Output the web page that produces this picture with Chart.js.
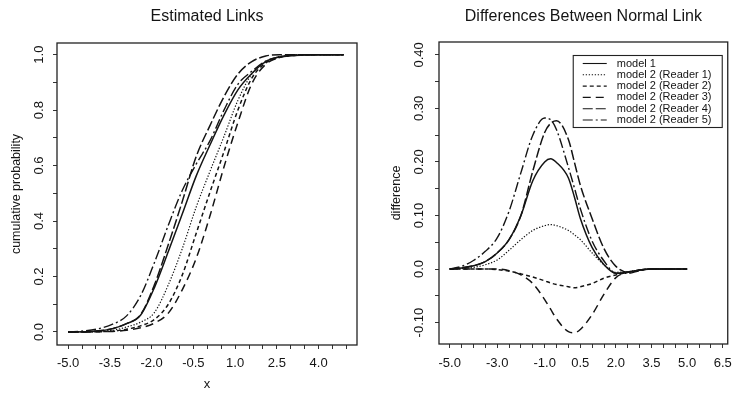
<!DOCTYPE html>
<html>
<head>
<meta charset="utf-8">
<script src="https://cdn.jsdelivr.net/npm/chart.js@4.4.0/dist/chart.umd.min.js"></script>
<style>
  html, body { margin: 0; padding: 0; background: #fff; overflow: hidden; }
  #wrap { position: relative; width: 740px; height: 397px; }
  canvas { position: absolute; top: 0; }
  #links { left: 0; }
  #diffs { left: 370px; }
</style>
</head>
<body>
<div id="wrap">
  <canvas id="links" width="370" height="397"></canvas>
  <canvas id="diffs" width="370" height="397"></canvas>
</div>
<script>
// ---- data ----
var seriesNames = ['model 1', 'model 2 (Reader 1)', 'model 2 (Reader 2)',
                   'model 2 (Reader 3)', 'model 2 (Reader 4)', 'model 2 (Reader 5)'];

// left panel: estimated links (cumulative probability)
var linkX = [-5, -4.4, -3.9, -3.4, -2.9, -2.4, -1.9, -1.4, -0.9, -0.4, 0.1, 0.6, 1.1, 1.6, 2.1, 2.6, 3.1, 4.1, 4.9];
var linkM1 = [0, 0.001, 0.004, 0.012, 0.03, 0.06, 0.16, 0.29, 0.425, 0.562, 0.675, 0.782, 0.873, 0.932, 0.975, 0.992, 0.997, 1, 1];
var linkR1 = [0, 0, 0.002, 0.006, 0.018, 0.035, 0.07, 0.17, 0.30, 0.45, 0.58, 0.705, 0.835, 0.93, 0.975, 0.993, 0.998, 1, 1];
var linkR2 = [0, 0, 0.001, 0.003, 0.01, 0.022, 0.045, 0.10, 0.205, 0.355, 0.505, 0.65, 0.80, 0.915, 0.97, 0.99, 0.997, 1, 1];
var linkR3 = [0, 0, 0.001, 0.002, 0.006, 0.015, 0.032, 0.068, 0.152, 0.265, 0.42, 0.595, 0.755, 0.895, 0.965, 0.99, 0.997, 1, 1];
var linkR4 = [0, 0.001, 0.004, 0.012, 0.03, 0.062, 0.17, 0.315, 0.47, 0.632, 0.745, 0.848, 0.93, 0.975, 0.995, 1, 1, 1, 1];
var linkR5 = [0, 0.004, 0.012, 0.028, 0.058, 0.13, 0.25, 0.385, 0.51, 0.605, 0.69, 0.80, 0.893, 0.94, 0.977, 0.992, 0.998, 1, 1];

// right panel: differences from the normal link
var diffX = [-5, -4.5, -4, -3.5, -3, -2.5, -2, -1.5, -1, -0.75, -0.5, 0, 0.25, 0.5, 1, 1.5, 2, 2.5, 3, 3.5, 4, 5];
var diffM1 = [0, 0.002, 0.006, 0.014, 0.03, 0.055, 0.10, 0.165, 0.200, 0.206, 0.199, 0.17, 0.135, 0.095, 0.04, 0.008, -0.008, -0.006, -0.002, 0, 0, 0];
var diffR1 = [0, 0.001, 0.003, 0.008, 0.017, 0.035, 0.055, 0.072, 0.081, 0.083, 0.081, 0.072, 0.064, 0.055, 0.03, 0.008, -0.006, -0.005, -0.002, 0, 0, 0];
var diffR2 = [0, 0, 0, 0, -0.001, -0.004, -0.009, -0.015, -0.022, -0.026, -0.029, -0.033, -0.035, -0.033, -0.027, -0.017, -0.011, -0.006, -0.002, 0, 0, 0];
var diffR3 = [0, 0, 0, 0, 0, -0.003, -0.011, -0.027, -0.057, -0.075, -0.093, -0.117, -0.119, -0.113, -0.085, -0.047, -0.016, -0.006, -0.002, 0, 0, 0];
var diffR4 = [0, 0.002, 0.006, 0.014, 0.03, 0.055, 0.10, 0.183, 0.255, 0.272, 0.277, 0.242, 0.2, 0.157, 0.094, 0.038, 0.005, -0.006, -0.002, 0, 0, 0];
var diffR5 = [0, 0.005, 0.016, 0.033, 0.058, 0.108, 0.18, 0.25, 0.282, 0.279, 0.26, 0.19, 0.152, 0.113, 0.052, 0.015, -0.008, -0.008, -0.003, 0, 0, 0];

// ticks and labels
var linkXTicks = [-5, -4.5, -4, -3.5, -3, -2.5, -2, -1.5, -1, -0.5, 0, 0.5, 1, 1.5, 2, 2.5, 3, 3.5, 4, 4.5, 5];
var linkXLabels = [-5, -3.5, -2, -0.5, 1, 2.5, 4];
var linkYTicks = [0, 0.1, 0.2, 0.3, 0.4, 0.5, 0.6, 0.7, 0.8, 0.9, 1];
var linkYLabels = [0, 0.2, 0.4, 0.6, 0.8, 1];
var diffXTicks = [-5, -4.5, -4, -3.5, -3, -2.5, -2, -1.5, -1, -0.5, 0, 0.5, 1, 1.5, 2, 2.5, 3, 3.5, 4, 4.5, 5, 5.5, 6, 6.5];
var diffXLabels = [-5, -3, -1, 0.5, 2, 3.5, 5, 6.5];
var diffYTicks = [-0.1, -0.05, 0, 0.05, 0.1, 0.15, 0.2, 0.25, 0.3, 0.35, 0.4];
var diffYLabels = [-0.1, 0, 0.1, 0.2, 0.3, 0.4];

// line styles, one per series
var dashes = [[], [1.3, 1.7], [4, 3], [8, 5], [10, 3], [10, 3, 2, 3]];
var widths = [1.5, 1.2, 1.5, 1.5, 1.5, 1.4];

var INK = '#141414';
var FONT = 'Liberation Sans, Arial, Helvetica, sans-serif';

function points(xs, ys) {
    return xs.map(function (x, i) { return {x: x, y: ys[i]}; });
}

function makeSets(xs, list) {
    return list.map(function (ys, i) {
        return {
            label: seriesNames[i],
            data: points(xs, ys),
            borderColor: INK,
            borderWidth: widths[i],
            borderDash: dashes[i],
            pointRadius: 0,
            fill: false,
            cubicInterpolationMode: 'monotone'
        };
    });
}

// box around the plot region
var framePlugin = {
    id: 'frame',
    afterDraw: function (chart) {
        var a = chart.chartArea, ctx = chart.ctx;
        ctx.save();
        ctx.strokeStyle = '#222';
        ctx.lineWidth = 1.3;
        ctx.strokeRect(a.left, a.top, a.right - a.left, a.bottom - a.top);
        ctx.restore();
    }
};

// boxed legend in the top right of the difference panel
var boxLegend = {
    id: 'boxLegend',
    afterDraw: function (chart) {
        var a = chart.chartArea, ctx = chart.ctx;
        var w = 149, h = 72;
        var x0 = a.right - 6 - w, y0 = a.top + 13;
        ctx.save();
        ctx.strokeStyle = '#222';
        ctx.lineWidth = 1.1;
        ctx.strokeRect(x0 + 0.5, y0 + 0.5, w, h);
        ctx.font = '11px ' + FONT;
        ctx.fillStyle = INK;
        ctx.textBaseline = 'middle';
        chart.data.datasets.forEach(function (ds, i) {
            var y = y0 + 8.5 + i * 11.3;
            ctx.beginPath();
            ctx.setLineDash(ds.borderDash);
            ctx.lineWidth = 1.1;
            ctx.strokeStyle = INK;
            ctx.moveTo(x0 + 10, y);
            ctx.lineTo(x0 + 34, y);
            ctx.stroke();
            ctx.fillText(ds.label, x0 + 44, y);
        });
        ctx.restore();
    }
};

function makeOptions(cfg) {
    return {
        responsive: false,
        animation: false,
        devicePixelRatio: 1,
        layout: {padding: {left: 0, right: cfg.padRight, top: 0, bottom: 0}},
        plugins: {
            legend: {display: false},
            tooltip: {enabled: false},
            title: {
                display: true,
                text: cfg.title,
                fullSize: false,
                color: INK,
                font: {family: FONT, size: 16, weight: 'normal'},
                padding: {top: 7, bottom: cfg.top - 7 - 19.2}
            }
        },
        scales: {
            x: {
                type: 'linear',
                min: cfg.xMin,
                max: cfg.xMax,
                afterBuildTicks: function (s) {
                    s.ticks = cfg.xTicks.map(function (v) { return {value: v}; });
                },
                afterFit: function (s) { s.height = cfg.xHeight; },
                ticks: {
                    autoSkip: false,
                    maxRotation: 0,
                    padding: cfg.xPad,
                    color: INK,
                    font: {family: FONT, size: 13},
                    callback: function (v) {
                        return cfg.xLabels.indexOf(v) >= 0 ? v.toFixed(1) : '';
                    }
                },
                grid: {drawOnChartArea: false, tickLength: 4, color: '#333', lineWidth: 1},
                border: {display: false},
                title: {
                    display: !!cfg.xTitle,
                    text: cfg.xTitle || '',
                    color: INK,
                    font: {family: FONT, size: 13},
                    padding: {top: 0, bottom: 5}
                }
            },
            y: {
                type: 'linear',
                min: cfg.yMin,
                max: cfg.yMax,
                afterBuildTicks: function (s) {
                    s.ticks = cfg.yTicks.map(function (v) { return {value: v}; });
                },
                afterFit: function (s) { s.width = cfg.yWidth; },
                ticks: {
                    autoSkip: false,
                    minRotation: 90,
                    maxRotation: 90,
                    crossAlign: 'center',
                    padding: cfg.yPad,
                    color: INK,
                    font: {family: FONT, size: 13},
                    callback: function (v) {
                        if (cfg.yLabels.indexOf(v) < 0) return '';
                        return cfg.yFormat(v);
                    }
                },
                grid: {drawOnChartArea: false, tickLength: 4, color: '#333', lineWidth: 1},
                border: {display: false},
                title: {
                    display: true,
                    text: cfg.yTitle,
                    color: INK,
                    font: {family: FONT, size: 12.5},
                    padding: {top: cfg.yTitlePad, bottom: 0}
                }
            }
        }
    };
}

new Chart(document.getElementById('links'), {
    type: 'line',
    data: {datasets: makeSets(linkX, [linkM1, linkR1, linkR2, linkR3, linkR4, linkR5])},
    options: makeOptions({
        title: 'Estimated Links', top: 43, padRight: 13,
        xMin: -5.40, xMax: 5.38, xTicks: linkXTicks, xLabels: linkXLabels,
        xHeight: 52, xPad: 7, xTitle: 'x',
        yMin: -0.047, yMax: 1.042, yTicks: linkYTicks, yLabels: linkYLabels,
        yWidth: 57, yPad: 5, yTitle: 'cumulative probability', yTitlePad: 9,
        yFormat: function (v) { return v.toFixed(1); }
    }),
    plugins: [framePlugin]
});

new Chart(document.getElementById('diffs'), {
    type: 'line',
    data: {datasets: makeSets(diffX, [diffM1, diffR1, diffR2, diffR3, diffR4, diffR5])},
    options: makeOptions({
        title: 'Differences Between Normal Link', top: 42, padRight: 3,
        xMin: -5.45, xMax: 6.71, xTicks: diffXTicks, xLabels: diffXLabels,
        xHeight: 53, xPad: 8, xTitle: null,
        yMin: -0.140, yMax: 0.424, yTicks: diffYTicks, yLabels: diffYLabels,
        yWidth: 69, yPad: 0.5, yTitle: 'difference', yTitlePad: 19,
        yFormat: function (v) { return v === 0 ? '0.0' : v.toFixed(2); }
    }),
    plugins: [framePlugin, boxLegend]
});
</script>
</body>
</html>
